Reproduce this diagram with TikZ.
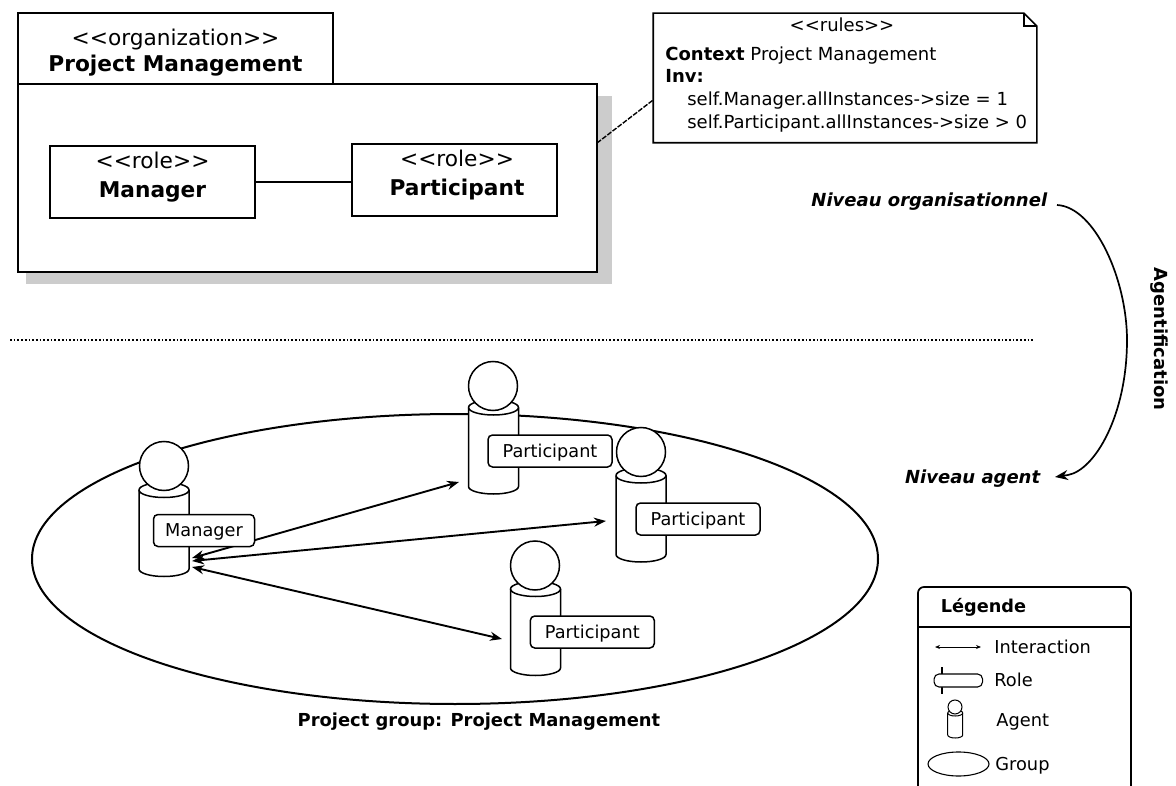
\documentclass[tikz,border=0pt]{standalone}
\usepackage{fontspec}
\setmainfont{DejaVu Sans}
\usetikzlibrary{positioning,shapes.geometric,arrows.meta,calc}
\newcommand{\stereo}[1]{<{}<#1>{}>}
\newcommand{\agentcyl}[3]{
\draw[fill=white] ([yshift=-#3]#1.north west) -- ([yshift=#3]#1.south west) arc[start angle=180,end angle=360,x radius=#2,y radius=#3] -- ([yshift=-#3]#1.north east) arc[start angle=0,end angle=180,x radius=#2,y radius=#3] -- cycle;
\draw ([yshift=-#3]#1.north west) arc[start angle=180,end angle=360,x radius=#2,y radius=#3];
}

\begin{document}
\begin{tikzpicture}[x=1pt,y=-1pt,line width=1.7pt,
box/.style={rectangle, draw=black, fill=white, inner sep=0pt},
boxtext/.style={inner sep=0pt, align=center, font=\fontsize{21.7}{28.5}\selectfont},
shadowbox/.style={rectangle, fill=black!20, inner sep=0pt},
rolelabel/.style={rectangle, rounded corners=4.5pt, draw=black, fill=white, line width=1.5pt, minimum width=124pt, minimum height=32pt, inner sep=0pt, text height=13pt, text depth=1pt, font=\fontsize{17.7}{21}\selectfont},
agentbody/.style={rectangle, minimum width=50pt, minimum height=94pt, inner sep=0pt, outer sep=0pt},
agenthead/.style={circle, draw=black, fill=white, line width=1.5pt, minimum size=49pt, inner sep=0pt},
interaction/.style={{Stealth[length=12pt,width=9pt]}-{Stealth[length=12pt,width=9pt]}, line width=1.9pt},
levellabel/.style={font=\fontsize{18}{21}\selectfont\bfseries\itshape, inner sep=0pt},
legendtext/.style={font=\fontsize{17.8}{21}\selectfont, inner sep=0pt, anchor=west}
]
\useasboundingbox (0,0) rectangle (1176,786);

% organisational level
\node[shadowbox, minimum width=586pt, minimum height=188pt](org_shadow) at (319,190){};
\node[box, minimum width=579pt, minimum height=188pt](org) at (307.5,178){};
\node[box, minimum width=315pt, minimum height=71pt](org_tab) at (175.5,48.5){};
\node[boxtext, yshift=-4pt, font=\fontsize{21.7}{26}\selectfont](org_title) at (org_tab){\stereo{organization}\\\textbf{Project Management}};
\node[box, minimum width=205pt, minimum height=72pt](role_manager) at (152.5,182){};
\node[box, minimum width=205pt, minimum height=72pt](role_part) at (454.5,180){};
\node[boxtext, yshift=5pt](role_manager_text) at (role_manager){\stereo{role}\\\textbf{Manager}};
\node[boxtext, yshift=5pt, xshift=2.5pt](role_part_text) at (role_part){\stereo{role}\\\textbf{Participant}};
\draw (role_manager.east) -- (role_part.west |- role_manager.east);

% rules note
\node[minimum width=382pt, minimum height=128pt, inner sep=0pt](rules) at (845,78){};
\draw (rules.south west) |- ([xshift=-13pt]rules.north east) -- ([yshift=-13pt]rules.north east) |- cycle;
\draw ([xshift=-13pt]rules.north east) |- ([yshift=-13pt]rules.north east);
\node[inner sep=0pt, font=\fontsize{18}{21}\selectfont](rules_title) at (842,25){\stereo{rules}};
\node[inner sep=0pt, anchor=north west, align=left, font=\fontsize{18}{22.7}\selectfont](rules_text) at (664.5,45.5){\textbf{Context} Project Management\\\textbf{Inv:}\\\hspace{22pt}self.Manager.allInstances->size = 1\\\hspace{22pt}self.Participant.allInstances->size > 0};
\coordinate (org_link) at (597,143);
\coordinate (rules_link) at (rules.west |- 0,100);
\draw[line width=1.4pt, dash pattern=on 5pt off 1.5pt] (org_link) -- (rules_link);

% levels
\node[levellabel, anchor=east](level_org) at (1048,202){Niveau organisationnel};
\node[levellabel, anchor=east](level_agent) at (1041,479){Niveau agent};
\coordinate (curve_start) at (1057,205);
\coordinate (curve_end) at (1055,477);
\draw[-{Stealth[length=13pt,width=10pt]}] (curve_start) .. controls (1095,207) and (1127,280) .. (1127,340) .. controls (1127,415) and (1095,470) .. (1068,475) -- (curve_end);
\node[rotate=-90, inner sep=0pt, font=\fontsize{18}{21}\selectfont\bfseries](agentification) at (1159,339){Agentification};
\coordinate (sep_left) at (10,340);
\coordinate (sep_right) at (1033,340);
\draw[dotted] (sep_left) -- (sep_right);

% agent level
\node[ellipse, draw=black, fill=white, line width=2pt, minimum width=846pt, minimum height=290pt, inner sep=0pt](group) at (455,559){};
\node[inner sep=0pt, font=\fontsize{17.9}{21}\selectfont\bfseries](group_label) at (479,722){Project group: Project Management};

\node[agentbody](body_manager) at (164,529.5){};
\node[agentbody](body_a) at (493.5,447){};
\node[agentbody](body_b) at (641,515){};
\node[agentbody](body_c) at (535.5,628.5){};
\begin{scope}[line width=1.5pt]
\agentcyl{body_manager}{25pt}{7.5pt}
\agentcyl{body_a}{25pt}{7.5pt}
\agentcyl{body_b}{25pt}{7.5pt}
\agentcyl{body_c}{25pt}{7.5pt}
\end{scope}
\node[agenthead](head_manager) at (164,466){};
\node[agenthead](head_a) at (493,386){};
\node[agenthead](head_b) at (641,452){};
\node[agenthead](head_c) at (535,565.5){};

\coordinate (manager_a) at (192,558);
\coordinate (manager_b) at (192,561);
\coordinate (manager_c) at (192,567);
\coordinate (end_a) at (459,482);
\coordinate (end_b) at (606,521);
\coordinate (end_c) at (502,639);
\draw[interaction] (manager_a) -- (end_a);
\draw[interaction] (manager_b) -- (end_b);
\draw[interaction] (manager_c) -- (end_c);

\node[rolelabel, minimum width=101pt](label_manager) at (204,530.5){Manager};
\node[rolelabel](label_a) at (550,451){Participant};
\node[rolelabel](label_b) at (698,519){Participant};
\node[rolelabel](label_c) at (592.3,632){Participant};

% legend
\coordinate (legend_bl) at (918,786);
\coordinate (legend_tr) at (1131,587);
\coordinate (legend_br) at (1131,786);
\draw[rounded corners=6pt] (legend_bl) |- (legend_tr) -- (legend_br);
\coordinate (legend_l) at (918,627);
\coordinate (legend_r) at (1131,627);
\draw (legend_l) -- (legend_r);
\node[inner sep=0pt, anchor=west, font=\fontsize{17.7}{21}\selectfont\bfseries](legend_title) at (940,607){Légende};

\coordinate (int_left) at (935,647);
\coordinate (int_right) at (981,647);
\draw[{Stealth[length=5pt,width=4pt]}-{Stealth[length=5pt,width=4pt]}, line width=0.9pt] (int_left) -- (int_right);
\node[legendtext](legend_int) at (993.5,647){Interaction};

\coordinate (role_top) at (942,667);
\coordinate (role_bot) at (942,694);
\draw[line width=1.1pt] (role_top) -- (role_bot);
\node[rectangle, rounded corners=5pt, draw=black, fill=white, line width=1.1pt, minimum width=48.5pt, minimum height=13pt, inner sep=0pt](legend_rolebox) at (958.3,680.5){};
\node[legendtext](legend_role) at (993.5,680){Role};

\node[rectangle, minimum width=15pt, minimum height=28pt, inner sep=0pt, outer sep=0pt](legend_body) at (955.2,724){};
\begin{scope}[line width=1pt]
\agentcyl{legend_body}{7.5pt}{3pt}
\end{scope}
\node[circle, draw=black, fill=white, line width=1pt, minimum size=14pt, inner sep=0pt](legend_head) at (955,707){};
\node[legendtext](legend_agent) at (995.5,722){Agent};

\node[ellipse, draw=black, line width=1.1pt, minimum width=61pt, minimum height=24pt, inner sep=0pt](legend_group) at (958.5,764){};
\node[legendtext](legend_grp) at (994.5,766){Group};
\end{tikzpicture}
\end{document}
